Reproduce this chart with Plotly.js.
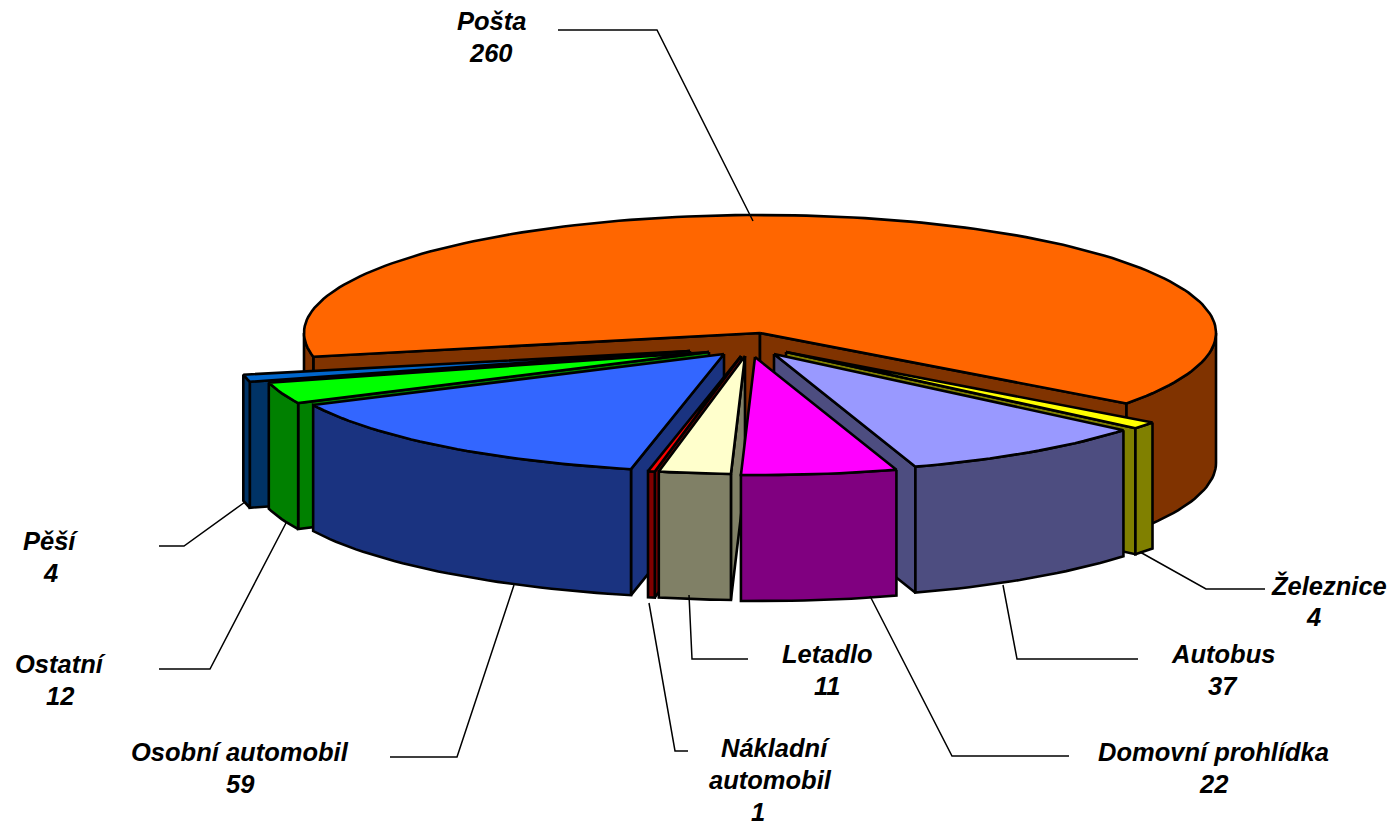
<!DOCTYPE html>
<html>
<head>
<meta charset="utf-8">
<script src="https://cdn.plot.ly/plotly-3.0.1.min.js"></script>
<style>html,body{margin:0;padding:0;background:#fff}#chart{width:1393px;height:822px}</style>
</head>
<body>
<div id="chart"></div>
<script>
// DATA (clockwise from the right-hand edge of the large slice)
var categories = ["Železnice", "Autobus", "Domovní prohlídka", "Letadlo", "Nákladní automobil", "Osobní automobil", "Ostatní", "Pěší", "Pošta"];
var labelLines = [["Železnice"], ["Autobus"], ["Domovní prohlídka"], ["Letadlo"], ["Nákladní", "automobil"], ["Osobní automobil"], ["Ostatní"], ["Pěší"], ["Pošta"]];
var values = [4, 37, 22, 11, 1, 59, 12, 4, 260];
var topColors = ["#FFFF00", "#9999FF", "#FF00FF", "#FFFFCC", "#FF0000", "#3366FF", "#00FF00", "#0066CC", "#FF6600"];
var sideColors = ["#808000", "#4D4D80", "#800080", "#808066", "#800000", "#1A3380", "#008000", "#003366", "#803300"];

// PIE STYLE: 3D projection, first slice angle, explosion of each slice in px, painter's order
var cx = 760, cy = 333, rx = 456, ry = 118, firstAngle = 36.7;
var depths = [126, 126, 126, 126, 126, 126, 126, 126, 130];
var explodeX = [26, 14, -5, -15, -19, -36, -51, -70, 0];
var explodeY = [19, 21, 24, 23, 23, 21, 19, 18, 0];
var drawOrder = [8, 7, 6, 5, 0, 1, 4, 3, 2];
var outline = 2.6;

// LABEL PLACEMENT (centre of every text line, last one is the value; and the leader lines)
var lineX = [[1329,1313],[1223,1223],[1213,1213],[827,827],[775,770,758],[240,240],[60,60],[50,50],[491,491]];
var lineY = [[585,617],[654,686],[752,784],[654,686],[748,780,812],[752,784],[664,696],[541,573],[21,53]];
var leaderX = [[1140,1206,1265],[1003,1017,1138],[870,952,1069],[689,692,748],[649,675,688],[514,457,390],[286,210,159],[245,184,159],[753,657,558]];
var leaderY = [[552,589,589],[585,659,659],[596,756,756],[595,659,659],[603,751,751],[585,757,757],[523,669,669],[502,546,546],[221,30,30]];

var RAD = Math.PI / 180;
var total = values.reduce(function (a, b) { return a + b; }, 0);
var starts = [], ends = [], acc = firstAngle;
values.forEach(function (v) { starts.push(acc); acc += v / total * 360; ends.push(acc); });

// Elliptical rim with a small correction for the perspective of the front edge
function rimX(i, t) {
  var s = Math.sin(t * RAD);
  var persp = s > 0 ? 7 * Math.pow(s, 4) - 5 * Math.exp(-Math.pow((t - 92) / 6, 2)) : 0;
  return cx + explodeX[i] + rx * Math.cos(t * RAD) + persp;
}
function rimY(i, t) { return cy + explodeY[i] + ry * Math.sin(t * RAD); }
function arc(a, b) {
  var out = [], n = Math.max(1, Math.ceil((b - a) / 1.5));
  for (var k = 0; k <= n; k++) out.push(a + (b - a) * k / n);
  return out;
}
var traces = [];
function poly(name, xs, ys, color) {
  traces.push({
    type: "scatter", mode: "lines", name: name, x: xs.concat([xs[0]]), y: ys.concat([ys[0]]),
    fill: "toself", fillcolor: color, line: { color: "#000", width: outline, shape: "linear" },
    hoverinfo: "skip", showlegend: false
  });
}
function wall(i, a, b) {
  var ts = arc(a, b), xs = [], ys = [];
  ts.forEach(function (t) { xs.push(rimX(i, t)); ys.push(rimY(i, t)); });
  ts.slice().reverse().forEach(function (t) { xs.push(rimX(i, t)); ys.push(rimY(i, t) + depths[i]); });
  poly(categories[i] + " side", xs, ys, sideColors[i]);
}
function cutFace(i, t) {
  var ax = cx + explodeX[i], ay = cy + explodeY[i], x = rimX(i, t), y = rimY(i, t), d = depths[i];
  poly(categories[i] + " cut", [ax, x, x, ax], [ay, y, y + d, ay + d], sideColors[i]);
}
drawOrder.forEach(function (i) {
  var a = starts[i], b = ends[i];
  if (Math.cos(a * RAD) < 0) cutFace(i, a);
  if (Math.cos(b * RAD) > 0) cutFace(i, b);
  [[0, 180], [360, 540]].forEach(function (r) {
    var lo = Math.max(a, r[0]), hi = Math.min(b, r[1]);
    if (hi > lo) wall(i, lo, hi);
  });
  var xs = [cx + explodeX[i]], ys = [cy + explodeY[i]];
  arc(a, b).forEach(function (t) { xs.push(rimX(i, t)); ys.push(rimY(i, t)); });
  poly(categories[i], xs, ys, topColors[i]);
});
categories.forEach(function (c, i) {
  traces.push({
    type: "scatter", mode: "lines", name: "leader", x: leaderX[i], y: leaderY[i],
    line: { color: "#000", width: 1.5 }, hoverinfo: "skip", showlegend: false
  });
});
var annotations = [];
categories.forEach(function (c, i) {
  labelLines[i].concat([String(values[i])]).forEach(function (line, k) {
    annotations.push({
      x: lineX[i][k], y: lineY[i][k], xref: "x", yref: "y", showarrow: false, align: "center",
      xanchor: "center", yanchor: "middle",
      text: "<b><i>" + line + "</i></b>",
      font: { family: "'Liberation Sans', Arial, sans-serif", size: 25.5, color: "#000" }
    });
  });
});
Plotly.newPlot("chart", traces, {
  width: 1393, height: 822, margin: { l: 0, r: 0, t: 0, b: 0 },
  paper_bgcolor: "#fff", plot_bgcolor: "#fff", showlegend: false,
  xaxis: { range: [0, 1393], visible: false, fixedrange: true },
  yaxis: { range: [822, 0], visible: false, fixedrange: true },
  annotations: annotations
}, { displayModeBar: false, staticPlot: true });
</script>
</body>
</html>
